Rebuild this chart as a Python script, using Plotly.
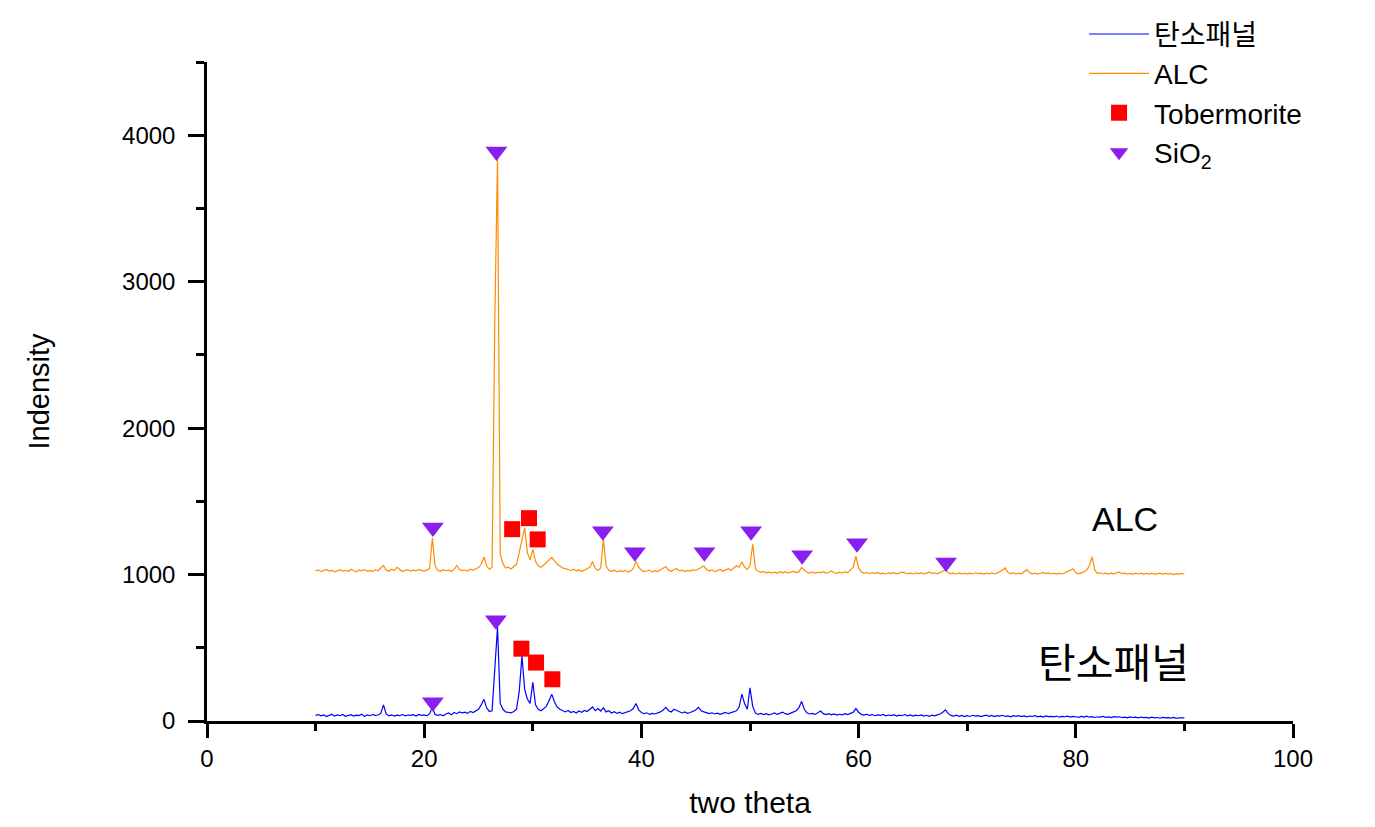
import numpy as np
import plotly.graph_objects as go

# two theta grid (10 .. 90, step 0.25)
two_theta = np.arange(10, 90.001, 0.25)

# ALC pattern
alc = [
    1025, 1032, 1020, 1028, 1035, 1022, 1030, 1018, 1027, 1033, 1024, 1029, 1021, 1036, 1026, 1019, 1031, 1025, 1034, 1022,
    1028, 1020, 1033, 1026, 1045, 1062, 1030, 1024, 1036, 1027, 1050, 1032, 1021, 1029, 1034, 1023, 1030, 1026, 1035, 1028,
    1024, 1032, 1040, 1250, 1060, 1027, 1022, 1033, 1026, 1030, 1021, 1035, 1062, 1034, 1027, 1031, 1024, 1036, 1029, 1040,
    1048, 1070, 1120, 1060, 1035, 1050, 2720, 3850, 1140, 1075, 1045, 1050, 1038, 1055, 1070, 1150, 1240, 1320, 1150, 1100,
    1172, 1090, 1060, 1050, 1065, 1080, 1100, 1117, 1090, 1070, 1058, 1045, 1040, 1032, 1028, 1036, 1025, 1032, 1022, 1030,
    1038, 1050, 1090, 1040, 1030, 1045, 1240, 1060, 1028, 1022, 1030, 1019, 1026, 1020, 1028, 1018, 1025, 1040, 1090, 1050,
    1030, 1020, 1024, 1030, 1018, 1026, 1021, 1032, 1045, 1055, 1030, 1022, 1035, 1040, 1025, 1030, 1020, 1028, 1024, 1033,
    1028, 1040, 1050, 1058, 1035, 1026, 1032, 1020, 1027, 1035, 1022, 1030, 1040, 1030, 1045, 1060, 1050, 1087, 1050, 1035,
    1060, 1209, 1040, 1022, 1015, 1020, 1012, 1018, 1010, 1016, 1008, 1019, 1012, 1020, 1010, 1015, 1022, 1013, 1018, 1048,
    1030, 1015, 1010, 1018, 1008, 1016, 1012, 1020, 1010, 1014, 1024, 1012, 1008, 1016, 1010, 1020, 1012, 1030, 1050, 1125,
    1045, 1018, 1010, 1014, 1006, 1012, 1008, 1015, 1005, 1010, 1004, 1012, 1007, 1013, 1005, 1010, 1018, 1012, 1006, 1010,
    1004, 1011, 1006, 1013, 1005, 1010, 1016, 1008, 1012, 1005, 1014, 1025, 1032, 1012, 1006, 1010, 1004, 1011, 1005, 1009,
    1003, 1010, 1004, 1012, 1006, 1010, 1003, 1009, 1005, 1012, 1004, 1010, 1018, 1030, 1045, 1015, 1006, 1011, 1004, 1010,
    1005, 1020, 1035, 1012, 1005, 1010, 1003, 1009, 1015, 1006, 1011, 1004, 1010, 1003, 1009, 1004, 1012, 1018, 1030, 1040,
    1012, 1005, 1010, 1018, 1030, 1060, 1120, 1030, 1008, 1012, 1004, 1010, 1003, 1009, 1005, 1012, 1018, 1006, 1010, 1003,
    1008, 1002, 1009, 1004, 1010, 1002, 1008, 1003, 1009, 1001, 1006, 1010, 1002, 1008, 1003, 1007, 1000, 1006, 1002, 1008,
    1004,
]

# 탄소패널 pattern
panel = [
    38, 44, 35, 42, 30, 40, 46, 33, 41, 36, 45, 32, 39, 43, 34, 40, 37, 47, 31, 42,
    36, 44, 38, 41, 52, 110, 48, 36, 42, 33, 40, 37, 44, 35, 41, 38, 43, 34, 45, 39,
    42, 36, 50, 93, 45, 38, 44, 36, 48, 55, 42, 58, 50, 62, 55, 60, 52, 66, 58, 72,
    80, 110, 148, 90, 65, 70, 320, 640, 120, 80, 62, 58, 55, 65, 80, 200, 444, 216, 150, 120,
    264, 110, 80, 70, 85, 100, 140, 182, 130, 95, 80, 70, 62, 72, 58, 66, 55, 68, 60, 72,
    65, 80, 96, 70, 85, 68, 90, 62, 70, 55, 64, 52, 60, 50, 58, 62, 70, 85, 120, 75,
    58, 50, 56, 45, 52, 48, 55, 62, 75, 93, 70, 62, 80, 72, 60, 55, 62, 52, 58, 66,
    75, 93, 70, 62, 58, 50, 56, 48, 54, 46, 52, 58, 50, 56, 62, 70, 95, 183, 120, 80,
    227, 100, 55, 45, 52, 44, 50, 42, 48, 55, 45, 52, 60, 50, 46, 54, 62, 70, 90, 134,
    80, 55, 48, 52, 45, 58, 68, 50, 44, 50, 42, 48, 40, 46, 42, 50, 44, 52, 60, 85,
    60, 45, 40, 46, 38, 44, 36, 42, 38, 45, 35, 41, 37, 43, 34, 40, 36, 44, 35, 41,
    33, 40, 36, 42, 34, 39, 32, 40, 35, 42, 48, 60, 76, 50, 38, 34, 40, 32, 38, 30,
    36, 31, 39, 33, 37, 30, 35, 40, 32, 38, 30, 36, 33, 39, 31, 35, 29, 37, 32, 36,
    30, 35, 28, 34, 31, 37, 29, 33, 27, 35, 30, 32, 28, 34, 26, 31, 29, 33, 27, 32,
    29, 25, 31, 27, 33, 26, 30, 24, 29, 27, 32, 25, 28, 23, 30, 26, 29, 24, 27, 22,
    28, 24, 26, 21, 27, 23, 25, 20, 26, 22, 24, 19, 25, 21, 23, 20, 24, 18, 22, 20,
    21,
]

# phase marks
sio2_x = [20.8, 26.65, 36.45, 39.4, 45.8, 50.1, 54.8, 59.85, 68.05, 20.8, 26.6]
sio2_y = [1322, 3889, 1296, 1152, 1152, 1296, 1131, 1213, 1083, 128, 688]
tober_x = [28.1, 29.65, 30.45, 28.95, 30.3, 31.8]
tober_y = [1310, 1385, 1240, 494, 399, 285]

FONT = "Liberation Sans, Arial, Noto Sans CJK KR"

fig = go.Figure()

fig.add_trace(go.Scatter(x=two_theta, y=panel, mode='lines', name='탄소패널',
                         line=dict(color='#0000FF', width=1.2)))
fig.add_trace(go.Scatter(x=two_theta, y=alc, mode='lines', name='ALC',
                         line=dict(color='#FF8C00', width=1.2)))
fig.add_trace(go.Scatter(x=tober_x, y=tober_y, mode='markers', name='Tobermorite',
                         marker=dict(symbol='square', size=16, color='#FF0000',
                                     line=dict(width=0))))
fig.add_trace(go.Scatter(x=sio2_x, y=sio2_y, mode='markers', name='SiO<sub>2</sub>',
                         marker=dict(symbol='triangle-down', size=19, color='#8A1EF0',
                                     line=dict(width=0))))

# curve labels
fig.add_annotation(x=84.5, y=1380, text='ALC', showarrow=False,
                   font=dict(family=FONT, size=34, color='black'))
fig.add_annotation(x=83.5, y=390, text='탄소패널', showarrow=False,
                   font=dict(family=FONT, size=41, color='black'))

fig.update_xaxes(range=[0, 100], dtick=20, tick0=0, showline=True, linecolor='black',
                 linewidth=2.5, ticks='outside', ticklen=14, tickwidth=2.5, tickcolor='black',
                 showgrid=False, zeroline=False,
                 minor=dict(ticks='outside', dtick=10, ticklen=7, tickwidth=2.5, tickcolor='black'),
                 tickfont=dict(family=FONT, size=24, color='black'),
                 title=dict(text='two theta', font=dict(family=FONT, size=30, color='black'), standoff=22))
fig.update_yaxes(range=[0, 4500], dtick=1000, tick0=0, showline=True, linecolor='black',
                 linewidth=2.5, ticks='outside', ticklen=16, tickwidth=2.5, tickcolor='black',
                 showgrid=False, zeroline=False, ticklabelstandoff=8,
                 minor=dict(ticks='outside', dtick=500, ticklen=8, tickwidth=2.5, tickcolor='black'),
                 tickfont=dict(family=FONT, size=24, color='black'),
                 title=dict(text='Indensity', font=dict(family=FONT, size=29, color='black'), standoff=64))

fig.update_layout(
    width=1375, height=827,
    margin=dict(l=199, r=90, t=54, b=114, autoexpand=False),
    plot_bgcolor='white', paper_bgcolor='white',
    legend=dict(x=0.8076, y=1.08, xanchor='left', yanchor='top',
                font=dict(family=FONT, size=28, color='black'),
                bgcolor='rgba(0,0,0,0)', tracegroupgap=0, itemwidth=60),
    showlegend=True,
)

fig.write_html("out.html")
